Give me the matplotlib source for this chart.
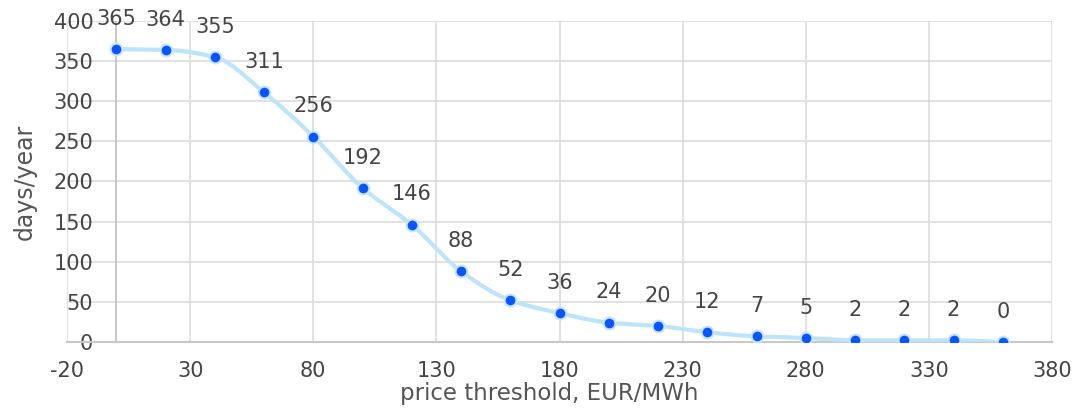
import numpy as np
import matplotlib
matplotlib.use("Agg")
import matplotlib.pyplot as plt

plt.rcParams['font.family'] = ['DejaVu Sans']
plt.rcParams['axes.unicode_minus'] = False

# price threshold (EUR/MWh) and days per year above it
thresholds = [0, 20, 40, 60, 80, 100, 120, 140, 160, 180, 200, 220, 240, 260, 280, 300, 320, 340, 360]
days = [365, 364, 355, 311, 256, 192, 146, 88, 52, 36, 24, 20, 12, 7, 5, 2, 2, 2, 0]
x_ticks = [-20, 30, 80, 130, 180, 230, 280, 330, 380]
y_ticks = [0, 50, 100, 150, 200, 250, 300, 350, 400]


def monotone_curve(x, y, n=40):
    # Fritsch-Carlson monotone cubic, just for the smooth look of the line
    x = np.asarray(x, float)
    y = np.asarray(y, float)
    h = np.diff(x)
    d = np.diff(y) / h
    m = np.zeros_like(y)
    m[0], m[-1] = d[0], d[-1]
    for i in range(1, len(x) - 1):
        if d[i - 1] * d[i] <= 0:
            m[i] = 0
        else:
            w1 = 2 * h[i] + h[i - 1]
            w2 = h[i] + 2 * h[i - 1]
            m[i] = (w1 + w2) / (w1 / d[i - 1] + w2 / d[i])
    xs, ys = [], []
    for i in range(len(x) - 1):
        t = np.linspace(0, 1, n, endpoint=False)
        h00 = 2 * t**3 - 3 * t**2 + 1
        h10 = t**3 - 2 * t**2 + t
        h01 = -2 * t**3 + 3 * t**2
        h11 = t**3 - t**2
        xs.append(x[i] + t * h[i])
        ys.append(h00 * y[i] + h10 * h[i] * m[i] + h01 * y[i + 1] + h11 * h[i] * m[i + 1])
    xs.append([x[-1]])
    ys.append([y[-1]])
    return np.concatenate(xs), np.concatenate(ys)


fig = plt.figure(figsize=(10.76, 4.11), dpi=100)
ax = fig.add_axes([0.0623, 0.168, 0.9154, 0.781])

text_col = '#444444'
cx, cy = monotone_curve(thresholds, days)
ax.plot(cx, cy, color='#bde4f8', lw=3, zorder=3, solid_capstyle='round')
ax.plot(thresholds, days, 'o', ms=8.5, color='#0a55ff', mec='#c6e7fa', mew=1.5, zorder=4)

for x, y in zip(thresholds, days):
    ax.annotate(str(y), (x, y), xytext=(0, 17.5), textcoords='offset points',
                ha='center', va='baseline', fontsize=15, color=text_col)

ax.set_xlim(-20, 380)
ax.set_ylim(0, 400)
ax.set_xticks(x_ticks)
ax.set_yticks(y_ticks)
ax.grid(True, color='#dcdcdc', lw=1.2, zorder=0)
ax.axvline(0, color='#c8c8c8', lw=1.5, zorder=1)
ax.set_axisbelow(True)

# y tick labels hang off the x=0 line, not the left edge
ax.spines['left'].set_position(('data', 0))
for s in ['top', 'right', 'left']:
    ax.spines[s].set_visible(False)
ax.spines['bottom'].set_color('#c8c8c8')
ax.spines['bottom'].set_linewidth(1.5)

ax.tick_params(axis='both', length=0, labelsize=15, labelcolor=text_col)
ax.tick_params(axis='x', pad=14)
ax.tick_params(axis='y', pad=16.5)

ax.set_xlabel('price threshold, EUR/MWh', fontsize=16.5, color='#555555')
ax.set_ylabel('days/year', fontsize=17, color='#555555')
ax.xaxis.set_label_coords(0.49, -0.124)
ax.yaxis.set_label_coords(-0.0305, 0.5)

fig.savefig('out.png', dpi=100)
